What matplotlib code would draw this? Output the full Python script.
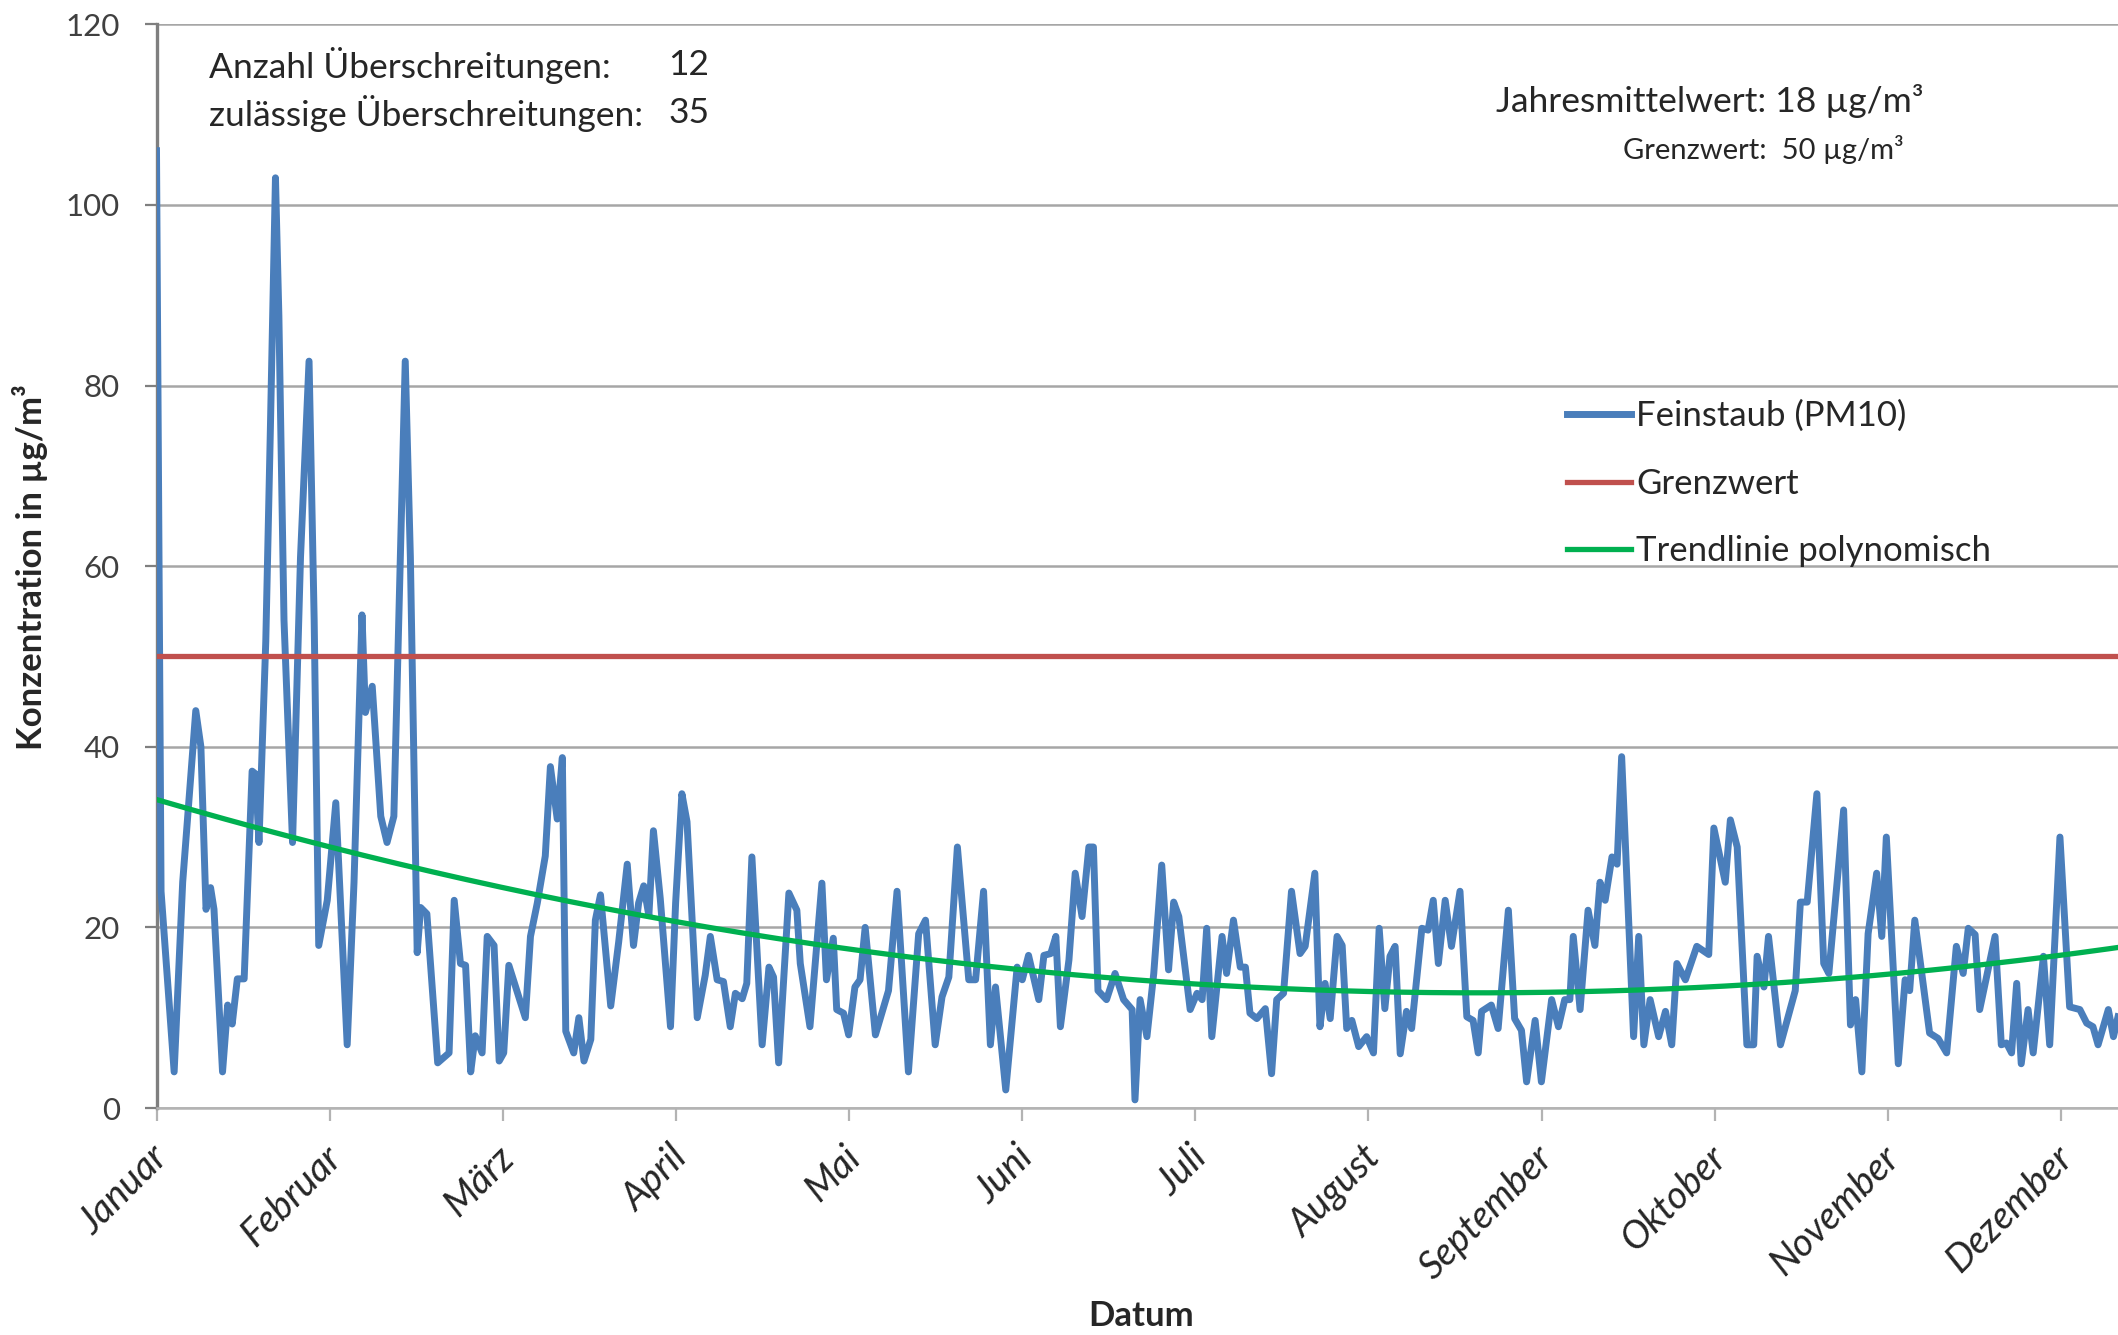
import matplotlib
matplotlib.use('Agg')
import matplotlib.pyplot as plt
import matplotlib.transforms as mtransforms
import numpy as np

plt.rcParams['font.family'] = ['Lato', 'DejaVu Sans']

# ---------------- data ----------------
monate = ['Januar', 'Februar', 'März', 'April', 'Mai', 'Juni', 'Juli',
          'August', 'September', 'Oktober', 'November', 'Dezember']

# days since 1 January and PM10 daily values in µg/m³
tage = [0, 0.8, 3.1, 4.6, 6.9, 7.8, 8.7, 9.5, 10.1, 11.6, 12.5, 13.3, 14.2, 15.4,
        16.8, 17.4, 18, 19.2, 20, 20.9, 21.5, 22.4, 23.9, 25.3, 26.8, 27.7, 28.5,
        30, 31.5, 33.5, 34.7, 36.1, 36.7, 37.9, 39.4, 40.5, 41.7, 43.7, 44.6, 45.8,
        46.4, 47.5, 49.4, 51.4, 52.3, 53.4, 54.3, 55.2, 56, 57.2, 58.1, 59.3, 60.2,
        61, 61.9, 63.4, 64.8, 65.7, 66.9, 68.3, 69.2, 70.4, 71.3, 71.9, 73.3, 74.2,
        75.1, 76.3, 77.1, 78, 79.8, 81.2, 82.7, 83.8, 84.7, 85.6, 86.5, 87.3, 88.5,
        90.3, 91.2, 92.3, 93.2, 95, 96.4, 97.3, 98.5, 99.6, 100.8, 101.7, 102.9,
        103.7, 104.6, 106.4, 107.6, 108.4, 109.3, 111.1, 112.5, 113.1, 114.8, 116.9,
        117.7, 118.9, 119.5, 120.7, 121.6, 122.7, 123.6, 124.5, 126.3, 128.6, 130.1,
        132.1, 133.9, 135.1, 136.8, 138, 139.2, 140.7, 142.7, 143.9, 145.3, 146.5,
        147.4, 149.2, 151.2, 152.1, 153.2, 155, 155.9, 157.1, 158, 158.8, 160.3,
        161.4, 162.6, 163.8, 164.6, 165.4, 166.9, 168.4, 169.9, 171.4, 171.9, 172.8,
        174, 175.2, 176.6, 177.8, 178.7, 179.6, 181.6, 182.8, 183.7, 184.5, 185.4,
        187.2, 188, 189.2, 190.4, 191.3, 192.1, 193.3, 194.8, 195.9, 196.8, 198,
        199.4, 200.9, 201.8, 203.5, 204.4, 205.3, 206.2, 207.4, 208.3, 209.1, 210,
        211.2, 212.6, 213.8, 214.8, 215.8, 216.7, 217.6, 218.5, 219.6, 220.5, 222.3,
        223.4, 224.3, 225.2, 226.4, 227.5, 229, 230.2, 231.3, 232.2, 232.8, 234.5,
        235.7, 237.5, 238.6, 239.8, 240.7, 242.2, 243.3, 245.1, 246.3, 247.4, 248.3,
        248.9, 250.1, 251.5, 252.7, 253.6, 254.5, 255.7, 256.6, 257.4, 259.5, 260.4,
        261.3, 262.4, 263.9, 265.1, 266.2, 267.1, 268.6, 270.6, 272.7, 273.6, 275.6,
        276.5, 277.7, 279.4, 280.6, 281.2, 282.4, 283.2, 285.3, 287.9, 288.8, 290,
        291.7, 292.9, 293.8, 296.4, 297.6, 298.5, 299.6, 300.7, 302.2, 303.1, 303.9,
        306, 307.2, 308, 308.9, 311.5, 313, 314.5, 316.2, 317.4, 318.3, 319.5, 320.3,
        323, 324.1, 325, 325.9, 326.8, 327.6, 328.8, 329.7, 331.5, 332.6, 334.4,
        336.1, 337.9, 339.1, 340.2, 341.1, 342.9, 343.8, 344.6]

pm10 = [106, 24, 4, 25, 44, 40, 22, 24.4, 22, 4, 11.4, 9.3, 14.3, 14.3,
        37.3, 37, 29.4, 51.7, 75, 103, 87.7, 54, 29.4, 61, 82.7, 54, 18,
        23, 33.8, 7, 25, 54.6, 43.8, 46.7, 32.3, 29.4, 32.3, 82.7, 61, 17.2,
        22.2, 21.5, 5, 6.1, 23, 16, 15.8, 4, 8, 6.1, 19, 18, 5.2,
        6.1, 15.8, 12.8, 10, 19, 22.7, 27.9, 37.8, 32, 38.8, 8.5, 6.1, 10,
        5.2, 7.6, 20.8, 23.6, 11.3, 18.4, 27, 18, 22.7, 24.6, 21.3, 30.7, 23.2,
        9, 22.7, 34.8, 31.7, 10, 14.7, 19, 14.2, 14, 9, 12.7, 12.1,
        13.8, 27.8, 7, 15.6, 14.5, 5, 23.8, 21.9, 16, 9, 24.9,
        14.2, 18.8, 10.9, 10.5, 8.1, 13.4, 14.2, 20, 8.1, 13, 24,
        4, 19.3, 20.8, 7, 12.3, 14.5, 28.9, 14.2, 14.2, 24, 7,
        13.4, 2, 15.6, 14.2, 16.9, 12, 16.9, 17.1, 19, 9, 16.4,
        26, 21.2, 28.9, 28.9, 13, 12, 14.9, 12, 10.9, 0.9, 12,
        7.9, 14.9, 26.9, 15.3, 22.8, 21.2, 10.9, 12.7, 12, 19.9, 7.9,
        19, 14.9, 20.8, 15.6, 15.6, 10.5, 9.9, 11, 3.8, 12, 12.7,
        24, 17.1, 17.9, 26, 9, 13.8, 9.9, 19, 18, 8.8, 9.7,
        6.8, 7.9, 6.1, 19.9, 11, 16.8, 17.9, 6, 10.7, 8.8, 19.9,
        19.7, 23, 16, 23, 17.9, 24, 10.1, 9.7, 6.1, 10.7, 11.4,
        8.8, 21.9, 9.9, 8.6, 2.9, 9.7, 2.9, 12, 9, 12, 12,
        19, 10.9, 21.9, 18, 25, 23, 27.8, 27, 38.9, 7.9, 19,
        7, 12, 7.9, 10.7, 7, 16, 14.2, 17.9, 17, 31, 25,
        31.9, 28.9, 7, 7, 16.8, 13.4, 19, 7, 13, 22.8, 22.8,
        34.8, 16, 14.9, 33, 9.2, 12, 4, 19.3, 26, 19, 30,
        4.9, 14.2, 13, 20.8, 8.3, 7.7, 6.1, 17.9, 14.9, 19.9, 19.2, 10.9,
        19, 7, 7.2, 6.1, 13.8, 4.9, 10.9, 6.1, 16.8, 7, 30,
        11.2, 10.9, 9.4, 9, 7, 10.9, 7.9, 10.1]

grenzwert = 50
# polynomial trend line
trend_tage = [0, 30, 48, 100, 150, 201, 227, 253, 298, 345]
trend_werte = [34.2, 28.7, 26.4, 19.8, 15.5, 13.1, 12.7, 12.9, 14.4, 17.9]

anzahl_ueberschreitungen = 12
zulaessige_ueberschreitungen = 35
jahresmittelwert = 18

# ---------------- figure ----------------
W, H = 2118, 1335
fig = plt.figure(figsize=(W / 100, H / 100), dpi=100)
x0, y_bot, y_top = 156.5, 1108, 24.3
ax = fig.add_axes([x0 / W, 1 - y_bot / H, 1 - x0 / W, (y_bot - y_top) / H])

x_max = 344.6
month_len = 365 / 12
month_pos = [i * month_len for i in range(len(monate))]

blue = '#4A7EBB'
red = '#C0504D'
green = '#00B050'
txt = '#262626'

ax.plot(tage, pm10, color=blue, lw=5.0, solid_joinstyle='round', zorder=3,
        label='Feinstaub (PM10)')
ax.axhline(grenzwert, color=red, lw=3.8, zorder=4, label='Grenzwert')
coef = np.polyfit(trend_tage, trend_werte, 2)
xs = np.linspace(0, x_max, 400)
ax.plot(xs, np.polyval(coef, xs), color=green, lw=3.8, zorder=5,
        label='Trendlinie polynomisch')

ax.set_xlim(0, x_max)
ax.set_ylim(0, 120)
ax.set_yticks(range(0, 121, 20))
ax.yaxis.grid(True, color='#A6A6A6', lw=1.8, zorder=0)
ax.set_axisbelow(True)

for s in ('top', 'right'):
    ax.spines[s].set_visible(False)
ax.spines['left'].set_color('#7F7F7F')
ax.spines['left'].set_linewidth(2.4)
ax.spines['bottom'].set_color('#B3B3B3')
ax.spines['bottom'].set_linewidth(1.8)

ax.tick_params(axis='y', direction='out', length=8.5, width=1.6, color='#7F7F7F',
               pad=18, labelsize=22.5, labelcolor='#404040')
ax.tick_params(axis='x', direction='out', length=9.5, width=1.6, color='#B3B3B3',
               pad=13, labelsize=27.5, labelcolor=txt)
ax.set_xticks(month_pos)
ax.set_xticklabels(monate, rotation=45, ha='right', va='top',
                   rotation_mode='anchor', style='italic')
offset = mtransforms.ScaledTranslation(-7 / 100, 0, fig.dpi_scale_trans)
for lbl in ax.get_xticklabels():
    lbl.set_transform(lbl.get_transform() + offset)

# axis titles
fig.text(30 / W, 1 - 567 / H, 'Konzentration in µg/m³', rotation=90,
         ha='center', va='center', fontsize=25, fontweight='bold', color=txt)
fig.text(1141 / W, 1 - 1316 / H, 'Datum', ha='center', va='center',
         fontsize=25, fontweight='bold', color=txt)

# annotations
fig.text(209 / W, 1 - 65 / H, 'Anzahl Überschreitungen:', ha='left', va='center',
         fontsize=25.5, color=txt)
fig.text(668 / W, 1 - 65 / H, f'{anzahl_ueberschreitungen}', ha='left', va='center',
         fontsize=25.5, color=txt)
fig.text(209 / W, 1 - 113 / H, 'zulässige Überschreitungen:', ha='left', va='center',
         fontsize=25.5, color=txt)
fig.text(668 / W, 1 - 113 / H, f'{zulaessige_ueberschreitungen}', ha='left',
         va='center', fontsize=25.5, color=txt)
fig.text(1496 / W, 1 - 101 / H, f'Jahresmittelwert: {jahresmittelwert} µg/m³',
         ha='left', va='center', fontsize=25.5, color=txt)
fig.text(1623 / W, 1 - 149 / H, f'Grenzwert:  {grenzwert} µg/m³',
         ha='left', va='center', fontsize=21, color=txt)

# legend
leg = ax.legend(loc='upper left', bbox_to_anchor=(1567 / W, 1 - 400 / H),
                bbox_transform=fig.transFigure, frameon=False, fontsize=25,
                handlelength=1.85, handletextpad=0.15, labelspacing=1.02,
                borderpad=0, borderaxespad=0)
for t in leg.get_texts():
    t.set_color(txt)

fig.savefig('out.png', dpi=100, facecolor='white')
